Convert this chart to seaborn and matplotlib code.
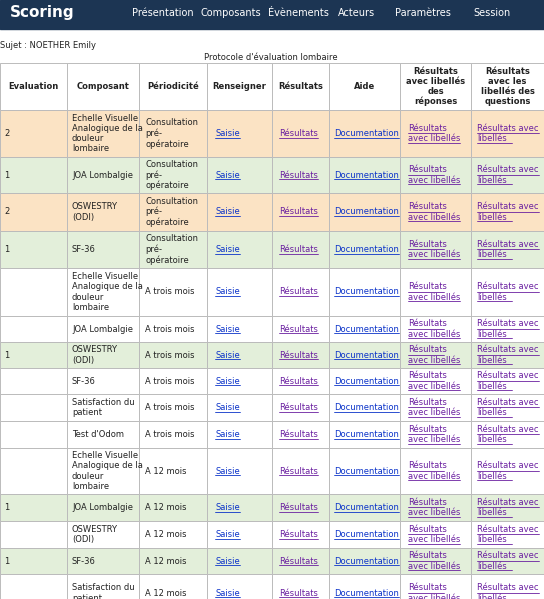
import matplotlib
matplotlib.use('Agg')
import matplotlib.pyplot as plt
import seaborn as sns
from matplotlib.patches import Rectangle

sns.set_theme(style='white')
plt.rcParams['font.family'] = ['DejaVu Sans']

# Table data
evaluations = ['2', '1', '2', '1', '', '', '1', '', '', '', '', '1', '', '1', '']
composants = ['Echelle Visuelle\nAnalogique de la\ndouleur\nlombaire', 'JOA Lombalgie', 'OSWESTRY\n(ODI)', 'SF-36',
              'Echelle Visuelle\nAnalogique de la\ndouleur\nlombaire', 'JOA Lombalgie', 'OSWESTRY\n(ODI)', 'SF-36',
              'Satisfaction du\npatient', "Test d'Odom",
              'Echelle Visuelle\nAnalogique de la\ndouleur\nlombaire', 'JOA Lombalgie', 'OSWESTRY\n(ODI)', 'SF-36',
              'Satisfaction du\npatient']
periodicites = ['Consultation\npré-\nopératoire'] * 4 + ['A trois mois'] * 6 + ['A 12 mois'] * 5
row_status = ['o', 'g', 'o', 'g', '', '', 'g', '', '', '', '', 'g', '', 'g', '']
headers = ['Evaluation', 'Composant', 'Périodicité', 'Renseigner', 'Résultats', 'Aide',
           'Résultats\navec libellés\ndes\nréponses', 'Résultats\navec les\nlibellés des\nquestions']
menu = ['Présentation', 'Composants', 'Évènements', 'Acteurs', 'Paramètres', 'Session']
menu_x = [163, 231, 298, 356, 423, 492]

col_edges = [0, 67, 139, 207, 272, 329, 400, 471, 544]
row_edges = [63, 110, 157, 193, 231, 268, 316, 342, 368, 394, 421, 448, 494, 521, 548, 574, 612]
fills = {'o': '#fbe3c4', 'g': '#e3efda', '': 'white'}
blue, purple = '#0b33c9', '#6a1fa0'

W, H = 544, 599
fig = plt.figure(figsize=(W / 100, H / 100), dpi=100)
ax = fig.add_axes([0, 0, 1, 1])
ax.set_xlim(0, W)
ax.set_ylim(H, 0)
ax.axis('off')

# nav bar
ax.add_patch(Rectangle((0, 0), W, 29, color='#1c3553'))
ax.text(10, 13, 'Scoring', color='white', fontsize=11, fontweight='bold', va='center')
for m, x in zip(menu, menu_x):
    ax.text(x, 13, m, color='white', fontsize=7, va='center', ha='center')
ax.text(0, 46, 'Sujet : NOETHER Emily', fontsize=6, va='center', color='#222')
ax.text(271, 57, "Protocole d'évaluation lombaire", fontsize=6, va='center', ha='center', color='#222')

links = []
fs = 6
for c in range(8):
    x0, x1 = col_edges[c], col_edges[c + 1]
    ax.add_patch(Rectangle((x0, 63), x1 - x0, 47, facecolor='white', edgecolor='#bbb', lw=0.7))
    ax.text((x0 + x1) / 2, 86.5, headers[c], fontsize=fs, fontweight='bold', ha='center', va='center',
            linespacing=1.15, color='#222')

for r in range(len(composants)):
    y0, y1 = row_edges[r + 1], row_edges[r + 2]
    yc = (y0 + y1) / 2
    for c in range(8):
        x0, x1 = col_edges[c], col_edges[c + 1]
        ax.add_patch(Rectangle((x0, y0), x1 - x0, y1 - y0, facecolor=fills[row_status[r]], edgecolor='#bbb', lw=0.7))
    ax.text(4, yc, evaluations[r], fontsize=fs, va='center', color='#222')
    ax.text(72, yc, composants[r], fontsize=fs, va='center', ha='left', linespacing=1.15, color='#222')
    ax.text(145, yc, periodicites[r], fontsize=fs, va='center', linespacing=1.15, color='#222')
    links.append(ax.text(215, yc, 'Saisie', fontsize=fs, va='center', color=blue))
    links.append(ax.text(279, yc, 'Résultats', fontsize=fs, va='center', color=purple))
    links.append(ax.text(334, yc, 'Documentation', fontsize=fs, va='center', color=blue))
    links.append(ax.text(408, yc, 'Résultats\navec libellés', fontsize=fs, va='center', color=purple, linespacing=1.15))
    links.append(ax.text(477, yc, 'Résultats avec\nlibellés', fontsize=fs, va='center', color=purple, linespacing=1.15))

# underline the link texts (per line)
fig.canvas.draw()
inv = ax.transData.inverted()
for t in links:
    bb = t.get_window_extent()
    (bx0, by0), (bx1, by1) = inv.transform([[bb.x0, bb.y0], [bb.x1, bb.y1]])
    nlines = t.get_text().count('\n') + 1
    lh = (by0 - by1) / nlines
    for i, line in enumerate(t.get_text().split('\n')):
        frac = len(line) / max(len(s) for s in t.get_text().split('\n'))
        yl = by1 + lh * (i + 1) - 0.5
        ax.plot([bx0, bx0 + (bx1 - bx0) * frac], [yl, yl], color=t.get_color(), lw=0.6)

fig.savefig('out.png', dpi=100)
